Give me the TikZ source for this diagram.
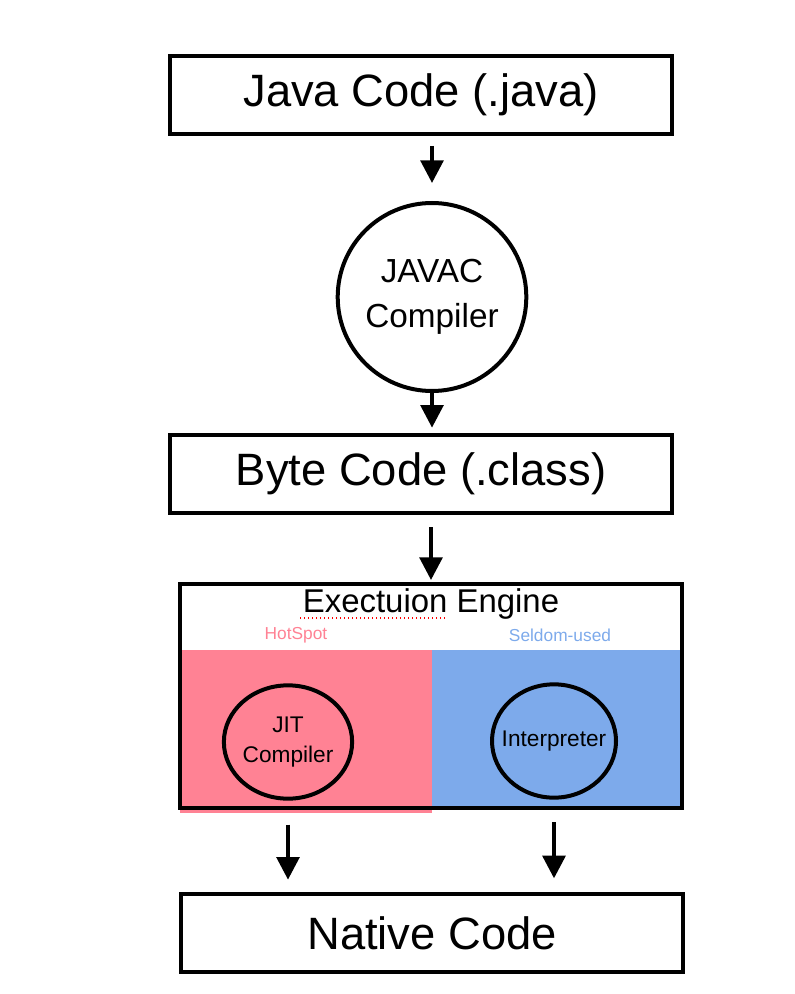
\documentclass[tikz,border=0pt]{standalone}
\usepackage{fontspec}
\setmainfont{Liberation Sans}
\usepackage{tikz}
\usetikzlibrary{arrows.meta}
\usetikzlibrary{shapes,arrows}
\definecolor{hotpink}{RGB}{255,130,148}
\definecolor{seldomblue}{RGB}{125,170,235}

\begin{document}
\begin{tikzpicture}[x=0.75pt,y=-0.75pt,
  box/.style={draw,line width=3pt,minimum width=376.5pt,minimum height=58.5pt,font=\fontsize{34}{40}\selectfont},
  ball/.style={draw,ellipse,line width=3pt,align=center,inner sep=0pt},
  flow/.style={-{Triangle[length=17pt,width=17pt]},line width=3pt}]
\useasboundingbox (0,0) rectangle (794,994);
\node [box] (java) at (421,95) {Java Code (.java)};
\node [ball, minimum size=141pt, font=\fontsize{25}{34}\selectfont] (javac) at (432,297) {JAVAC\\Compiler};
\node [box] (byte) at (421,474) {Byte Code (.class)};
% execution engine
\fill [hotpink] (180,650) rectangle (432,813);
\fill [seldomblue] (432,650) rectangle (682,808);
\node [draw,line width=3pt,minimum width=376.5pt,minimum height=168pt] (engine) at (431,696) {};
\node [inner sep=0pt,font=\fontsize{24.7}{30}\selectfont] (title) at (431,604) {Exectuion Engine};
\draw [red,dotted,line width=1pt] (300,618) -- (445,618);
\node [hotpink,font=\fontsize{13}{16}\selectfont] (hot) at (296,635) {HotSpot};
\node [seldomblue,font=\fontsize{13}{16}\selectfont] (seldom) at (560,635) {Seldom-used};
\node [ball, minimum width=95pt, minimum height=85pt, font=\fontsize{17}{22}\selectfont] (jit) at (288,742) {JIT\\Compiler};
\node [ball, minimum width=93pt, minimum height=85pt, inner xsep=-16pt, font=\fontsize{17}{22}\selectfont] (interp) at (554,741) {Interpreter};
\node [box, minimum width=376pt, minimum height=59pt] (native) at (432,933) {Native Code};
% arrows
\draw [flow, shorten <=7.5pt, shorten >=13.5pt] (javac |- java.south) -- (javac.north);
\draw [flow, shorten >=4pt] (javac.south) -- (javac |- byte.north);
\draw [flow, shorten <=9pt, shorten >=1.5pt] (engine |- byte.south) -- (engine.north);
\draw [flow, shorten <=11pt, shorten >=9pt] (jit |- engine.south) -- (jit |- native.north);
\draw [flow, shorten <=9pt, shorten >=10pt] (interp |- engine.south) -- (interp |- native.north);
\end{tikzpicture}
\end{document}
